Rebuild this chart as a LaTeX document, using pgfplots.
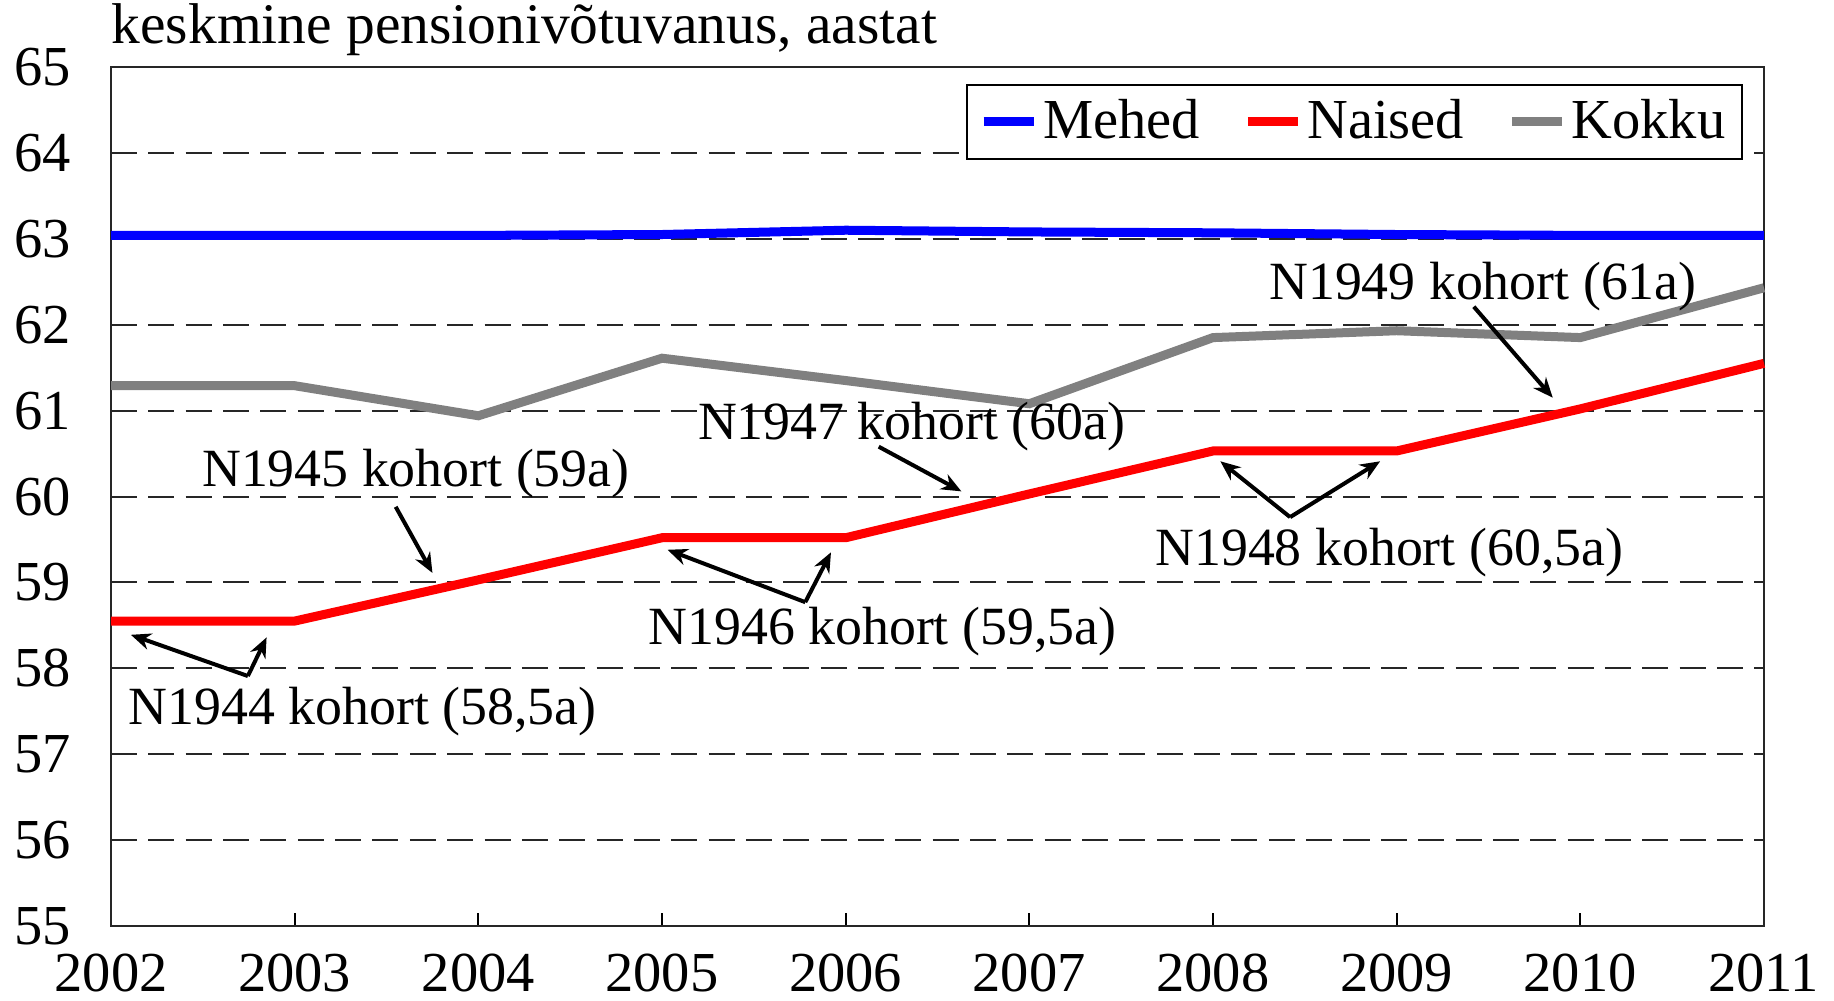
\documentclass[border=0pt]{standalone}
\usepackage{pgfplots}
\pgfplotsset{compat=1.18}
\usepackage{fontspec}
\setmainfont{Liberation Serif}
\usetikzlibrary{arrows.meta,calc}
\definecolor{mblue}{RGB}{0,0,255}
\definecolor{mred}{RGB}{255,0,0}
\definecolor{mgrey}{RGB}{128,128,128}
\begin{document}
\begin{tikzpicture}
\begin{axis}[
  scale only axis,
  width=495.7bp, height=257.6bp,
  xmin=2002, xmax=2011, ymin=55, ymax=65,
  xtick={2002,...,2011}, ytick={55,...,65},
  xticklabel style={/pgf/number format/1000 sep={}, font=\fontsize{17}{17}\selectfont, yshift=-4.8bp},
  yticklabel style={font=\fontsize{17}{17}\selectfont, xshift=-8.5bp},
  /pgf/number format/assume math mode=true,
  xticklabel={\pgfmathprintnumber[1000 sep={},fixed,precision=0]{\tick}},
  tick pos=left,
  xtick align=inside,
  major tick length=4bp,
  ytick style={draw=none},
  xtick style={black, line width=0.6bp},
  axis line style={black!85, line width=0.8bp},
  ymajorgrids,
  major grid style={black!85, line width=0.6bp, dash pattern=on 7.8bp off 3.4bp},
  clip=false,
  legend columns=3,
  legend cell align=left,
  legend style={at={(0.9873,0.9806)}, anchor=north east,
    font=\fontsize{17}{17}\selectfont, draw=black, line width=0.6bp,
    inner xsep=3.5bp, inner ysep=3bp,
    nodes={inner sep=1.5bp},
    /tikz/every even column/.append style={column sep=11.5bp}},
  legend image code/.code={\draw[#1, line width=2.7bp] (0bp,0bp) -- (15bp,0bp);},
]
\coordinate (sw) at (rel axis cs:0,0);
\coordinate (ne) at (rel axis cs:1,1);
\addplot[mblue, line width=2.7bp] coordinates {
(2002,63.04) (2003,63.04) (2004,63.04) (2005,63.05) (2006,63.1) (2007,63.08) (2008,63.07) (2009,63.05) (2010,63.04) (2011,63.04)};
\addlegendentry{Mehed}
\addplot[mred, line width=2.7bp] coordinates {
(2002,58.55) (2003,58.55) (2004,59.03) (2005,59.52) (2006,59.52) (2007,60.03) (2008,60.53) (2009,60.53) (2010,61.02) (2011,61.55)};
\addlegendentry{Naised}
\addplot[mgrey, line width=2.7bp] coordinates {
(2002,61.29) (2003,61.29) (2004,60.94) (2005,61.61) (2006,61.35) (2007,61.08) (2008,61.85) (2009,61.93) (2010,61.85) (2011,62.43)};
\addlegendentry{Kokku}

\begin{scope}[font=\fontsize{16.2}{16.2}\selectfont]
\node at (axis cs:2003.37,57.5) {N1944 kohort (58,5a)};
\node at (axis cs:2003.66,60.27) {N1945 kohort (59a)};
\node at (axis cs:2006.20,58.43) {N1946 kohort (59,5a)};
\node at (axis cs:2006.36,60.81) {N1947 kohort (60a)};
\node at (axis cs:2008.96,59.35) {N1948 kohort (60,5a)};
\node at (axis cs:2009.47,62.44) {N1949 kohort (61a)};
\end{scope}
\begin{scope}[line width=1.2bp, -{Stealth[length=6bp,width=5bp]}]
\draw (axis cs:2002.745,57.91) -- (axis cs:2002.108,58.39);
\draw (axis cs:2002.745,57.91) -- (axis cs:2002.847,58.36);
\draw (axis cs:2003.55,59.88) -- (axis cs:2003.75,59.11);
\draw (axis cs:2005.78,58.77) -- (axis cs:2005.03,59.38);
\draw (axis cs:2005.78,58.77) -- (axis cs:2005.92,59.35);
\draw (axis cs:2006.18,60.58) -- (axis cs:2006.63,60.06);
\draw (axis cs:2008.42,59.76) -- (axis cs:2008.04,60.41);
\draw (axis cs:2008.42,59.76) -- (axis cs:2008.91,60.41);
\draw (axis cs:2009.42,62.21) -- (axis cs:2009.85,61.15);
\end{scope}
\end{axis}
\node[anchor=base west, inner sep=0pt, font=\fontsize{17.3}{17.3}\selectfont] at ($(sw|-ne)+(0,7.2bp)$) {keskmine pensionivõtuvanus, aastat};
\pgfresetboundingbox
\useasboundingbox ($(sw)+(-33.3bp,-22.2bp)$) rectangle ($(ne)+(21bp,20.1bp)$);
\end{tikzpicture}
\end{document}
